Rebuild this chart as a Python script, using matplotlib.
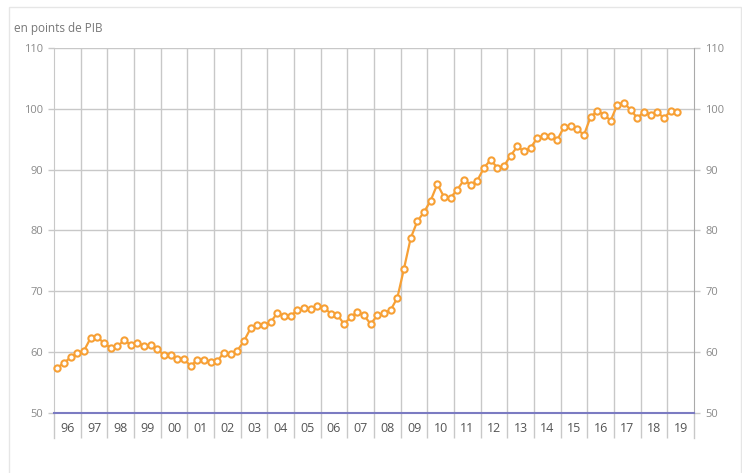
import numpy as np
import matplotlib.pyplot as plt
from matplotlib.patches import Rectangle

# Dette en points de PIB, trimestrielle, 1996T1 - 2019T2
debut = 1996
valeurs = [
    57.4, 58.2, 59.1, 59.8,   # 96
    60.2, 62.3, 62.5, 61.4,   # 97
    60.7, 60.9, 61.9, 61.2,   # 98
    61.5, 61.0, 61.1, 60.4,   # 99
    59.5, 59.5, 58.8, 58.8,   # 00
    57.7, 58.7, 58.7, 58.4,   # 01
    58.5, 59.9, 59.7, 60.2,   # 02
    61.8, 63.9, 64.5, 64.4,   # 03
    64.9, 66.4, 65.9, 65.9,   # 04
    66.9, 67.2, 67.0, 67.6,   # 05
    67.3, 66.3, 66.1, 64.6,   # 06
    65.7, 66.6, 66.0, 64.6,   # 07
    66.0, 66.4, 66.9, 68.9,   # 08
    73.7, 78.7, 81.5, 83.0,   # 09
    84.9, 87.6, 85.5, 85.4,   # 10
    86.7, 88.3, 87.5, 88.2,   # 11
    90.3, 91.6, 90.3, 90.6,   # 12
    92.3, 93.8, 93.0, 93.6,   # 13
    95.2, 95.6, 95.6, 94.9,   # 14
    97.0, 97.2, 96.6, 95.7,   # 15
    98.7, 99.6, 99.05, 98.05, # 16
    100.7, 101.0, 99.8, 98.5, # 17
    99.5, 99.05, 99.4, 98.5,  # 18
    99.6, 99.55,              # 19
]
annees = list(range(1996, 2020))
etiquettes = [f"{a % 100:02d}" for a in annees]
yticks = [50, 60, 70, 80, 90, 100, 110]

gris_grille = "#c8c8c8"
gris_texte = "#8a8a8a"
orange = "#f7a035"

plt.rcParams['font.family'] = ['Open Sans', 'DejaVu Sans']

fig = plt.figure(figsize=(7.42, 4.73), dpi=100)
fig.patches.append(Rectangle((9 / 742, -0.01), 732 / 742, 1 - 7 / 473 + 0.01,
                             transform=fig.transFigure, fill=False,
                             edgecolor="#e6e6e6", linewidth=1))

ax = fig.add_axes([54 / 742, 1 - 412.7 / 473, 640 / 742, (412.7 - 48) / 473])

x = debut + (np.arange(len(valeurs)) + 0.5) / 4
ax.plot(x, valeurs, color=orange, linewidth=1.6, marker='o', markersize=4.5,
        markerfacecolor='white', markeredgecolor=orange, markeredgewidth=1.5,
        zorder=3, clip_on=False)

ax.set_xlim(1996, 2020)
ax.set_ylim(50, 110)

# grille
ax.set_yticks(yticks)
ax.set_xticks(annees[1:])
ax.grid(True, color=gris_grille, linewidth=1)
ax.set_axisbelow(True)
ax.tick_params(axis='x', which='major', length=18, width=1, color=gris_grille,
               labelbottom=False)
ax.set_xticks(np.array(annees) + 0.5, minor=True)
ax.set_xticklabels(etiquettes, minor=True)
ax.tick_params(axis='x', which='minor', length=0, pad=7, labelsize=9,
               labelcolor="#555555")

ax.tick_params(axis='y', which='major', length=4, width=1, color=gris_grille,
               labelsize=8, labelcolor=gris_texte, left=True, right=True,
               labelleft=True, labelright=True, pad=4)

for s in ['left', 'right', 'top']:
    ax.spines[s].set_color(gris_grille)
ax.spines['right'].set_color("#aaaaaa")
ax.spines['top'].set_visible(False)
ax.spines['bottom'].set_color("#7b7bc2")
ax.spines['bottom'].set_linewidth(1.5)

# traits de graduation pour les bords gauche/droit sous l'axe
for xv in [1996, 2020]:
    ax.plot([xv, xv], [50, 50 - 25 / 6.07], color=gris_grille, linewidth=1,
            clip_on=False, zorder=1)

fig.text(14 / 742, 1 - 32 / 473, "en points de PIB", fontsize=8.5,
         color="#777777", va='baseline', ha='left')

fig.savefig("out.png", dpi=100)
